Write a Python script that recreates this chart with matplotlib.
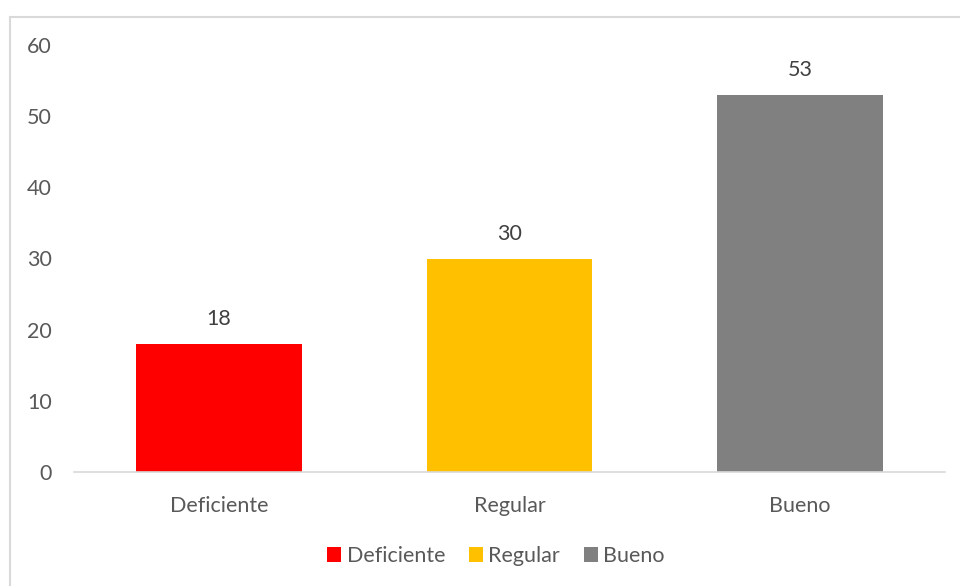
import matplotlib.pyplot as plt
from matplotlib.lines import Line2D

categories = ["Deficiente", "Regular", "Bueno"]
values = [18, 30, 53]
colors = ["#FF0000", "#FFC000", "#808080"]
yticks = [0, 10, 20, 30, 40, 50, 60]

plt.rcParams["font.family"] = ["Lato", "DejaVu Sans"]
text_color = "#595959"
fs = 15.5

fig = plt.figure(figsize=(9.6, 5.86), dpi=100)
ax = fig.add_axes([74 / 960, 1 - 472 / 586, 871 / 960, 427 / 586])

x = range(len(categories))
bars = ax.bar(x, values, width=0.57, color=colors, label=categories)
for b, v in zip(bars, values):
    ax.annotate(str(v), (b.get_x() + b.get_width() / 2, v),
                xytext=(0, 18), textcoords="offset points",
                ha="center", va="center", fontsize=fs, color="#404040")

ax.set_xlim(-0.5, len(categories) - 0.5)
ax.set_ylim(0, 60)
ax.set_yticks(yticks)
ax.set_xticks(list(x))
ax.set_xticklabels(categories)
ax.tick_params(axis="both", length=0, labelsize=fs, labelcolor=text_color)
ax.tick_params(axis="x", pad=17)
ax.tick_params(axis="y", pad=16)
for s in ["top", "right", "left"]:
    ax.spines[s].set_visible(False)
ax.spines["bottom"].set_color("#D9D9D9")
ax.spines["bottom"].set_linewidth(1.2)

leg = fig.legend(handles=bars, labels=categories, loc="center",
                 bbox_to_anchor=(496 / 960, 1 - 556 / 586), ncol=3,
                 frameon=False, fontsize=fs, handlelength=0.65, handleheight=0.65,
                 handletextpad=0.25, columnspacing=1.1)
for t in leg.get_texts():
    t.set_color(text_color)

# chart area border: left and top edges only
border = dict(transform=fig.transFigure, color="#D9D9D9", linewidth=1.5)
fig.lines.append(Line2D([9.5 / 960, 9.5 / 960], [0, 1 - 16.5 / 586], **border))
fig.lines.append(Line2D([9.5 / 960, 1], [1 - 16.5 / 586, 1 - 16.5 / 586], **border))

fig.savefig("out.png", dpi=100)
